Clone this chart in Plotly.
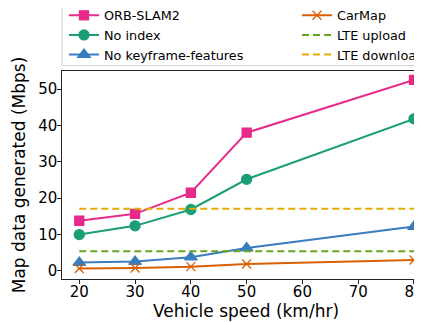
import plotly.graph_objects as go

speeds = [20, 30, 40, 50, 80]
orb_slam2 = [13.8, 15.7, 21.5, 38.0, 52.5]
no_index = [10.0, 12.4, 16.9, 25.2, 41.8]
no_keyframe = [2.3, 2.6, 3.8, 6.3, 12.2]
carmap = [0.7, 0.8, 1.2, 1.9, 3.0]
lte_upload = 5.4
lte_download = 17.1

x_ticks = [20, 30, 40, 50, 60, 70, 80]
y_ticks = [0, 10, 20, 30, 40, 50]

FONT = "DejaVu Sans"
W, H = 422, 322
OFF = 8  # page body margin: figure pixel = page pixel - OFF
L, R, T, B = 62 - OFF, 0, 71 - OFF, H - (279 - OFF)
PW, PH = W - L - R, H - T - B


def px_x(page_px):
    return (page_px - OFF - L) / PW


def px_y(page_py):
    return (H - B - (page_py - OFF)) / PH


fig = go.Figure()

series = [
    ("ORB-SLAM2", orb_slam2, "#e7298a", "square", 9, "legend"),
    ("No index", no_index, "#1b9e77", "circle", 10, "legend"),
    ("No keyframe-features", no_keyframe, "#3a7dbf", "triangle-up", 11, "legend"),
    ("CarMap", carmap, "#d95f02", "x-thin", 9, "legend2"),
]
for name, vals, col, sym, sz, lg in series:
    fig.add_trace(go.Scatter(
        x=speeds, y=vals, name=name, mode="lines+markers",
        line=dict(color=col, width=2),
        marker=dict(symbol=sym, size=sz, color=col, line=dict(color=col, width=1.3)),
        cliponaxis=False, legend=lg,
    ))

for name, val, col in [("LTE upload", lte_upload, "#66a61e"),
                       ("LTE download", lte_download, "#e6ab02")]:
    fig.add_trace(go.Scatter(
        x=[speeds[0], speeds[-1]], y=[val, val], name=name, mode="lines",
        line=dict(color=col, width=2, dash="7px,4px"),
        legend="legend2",
    ))

shapes = [dict(type="rect", xref="paper", yref="paper",
               x0=px_x(62), x1=px_x(445), y0=px_y(65.5), y1=px_y(6),
               line=dict(color="#d0d0d0", width=1), fillcolor="rgba(255,255,255,0.8)",
               layer="below")]

legend_common = dict(yanchor="top", xanchor="left", bgcolor="rgba(0,0,0,0)", borderwidth=0,
                     font=dict(family=FONT, size=12.8, color="#000000"), itemwidth=30)

fig.update_layout(
    width=W, height=H,
    margin=dict(l=L, r=R, t=T, b=B, pad=0, autoexpand=False),
    paper_bgcolor="white", plot_bgcolor="white",
    font=dict(family=FONT, size=15, color="#000000"),
    shapes=shapes,
    showlegend=True,
    legend=dict(x=px_x(64), y=px_y(0.5), **legend_common),
    legend2=dict(x=px_x(297), y=px_y(0.5), **legend_common),
    xaxis=dict(range=[16.9, 82.87], tickvals=x_ticks, ticktext=[str(v) for v in x_ticks],
               showgrid=False, zeroline=False, automargin=False,
               showline=True, linecolor="#222222", linewidth=1.2, mirror=True,
               ticks="outside", ticklen=3.5, tickwidth=1, tickcolor="#222222",
               ticklabelstandoff=-5, ticklabeloverflow="allow",
               tickfont=dict(family=FONT, size=15, color="#000000"),
               title=dict(text="Vehicle speed (km/hr)", standoff=2,
                          font=dict(family=FONT, size=17, color="#000000"))),
    yaxis=dict(range=[-2.2, 54.95], tickvals=y_ticks, ticktext=[str(v) for v in y_ticks],
               showgrid=False, zeroline=False, automargin=False,
               showline=True, linecolor="#222222", linewidth=1.2, mirror=False,
               ticks="outside", ticklen=3.5, tickwidth=1, tickcolor="#222222",
               ticklabelstandoff=-3, ticklabeloverflow="allow",
               tickfont=dict(family=FONT, size=15, color="#000000"),
               title=dict(text="Map data generated (Mbps)", standoff=8,
                          font=dict(family=FONT, size=17, color="#000000"))),
)

fig.write_html("out.html")
